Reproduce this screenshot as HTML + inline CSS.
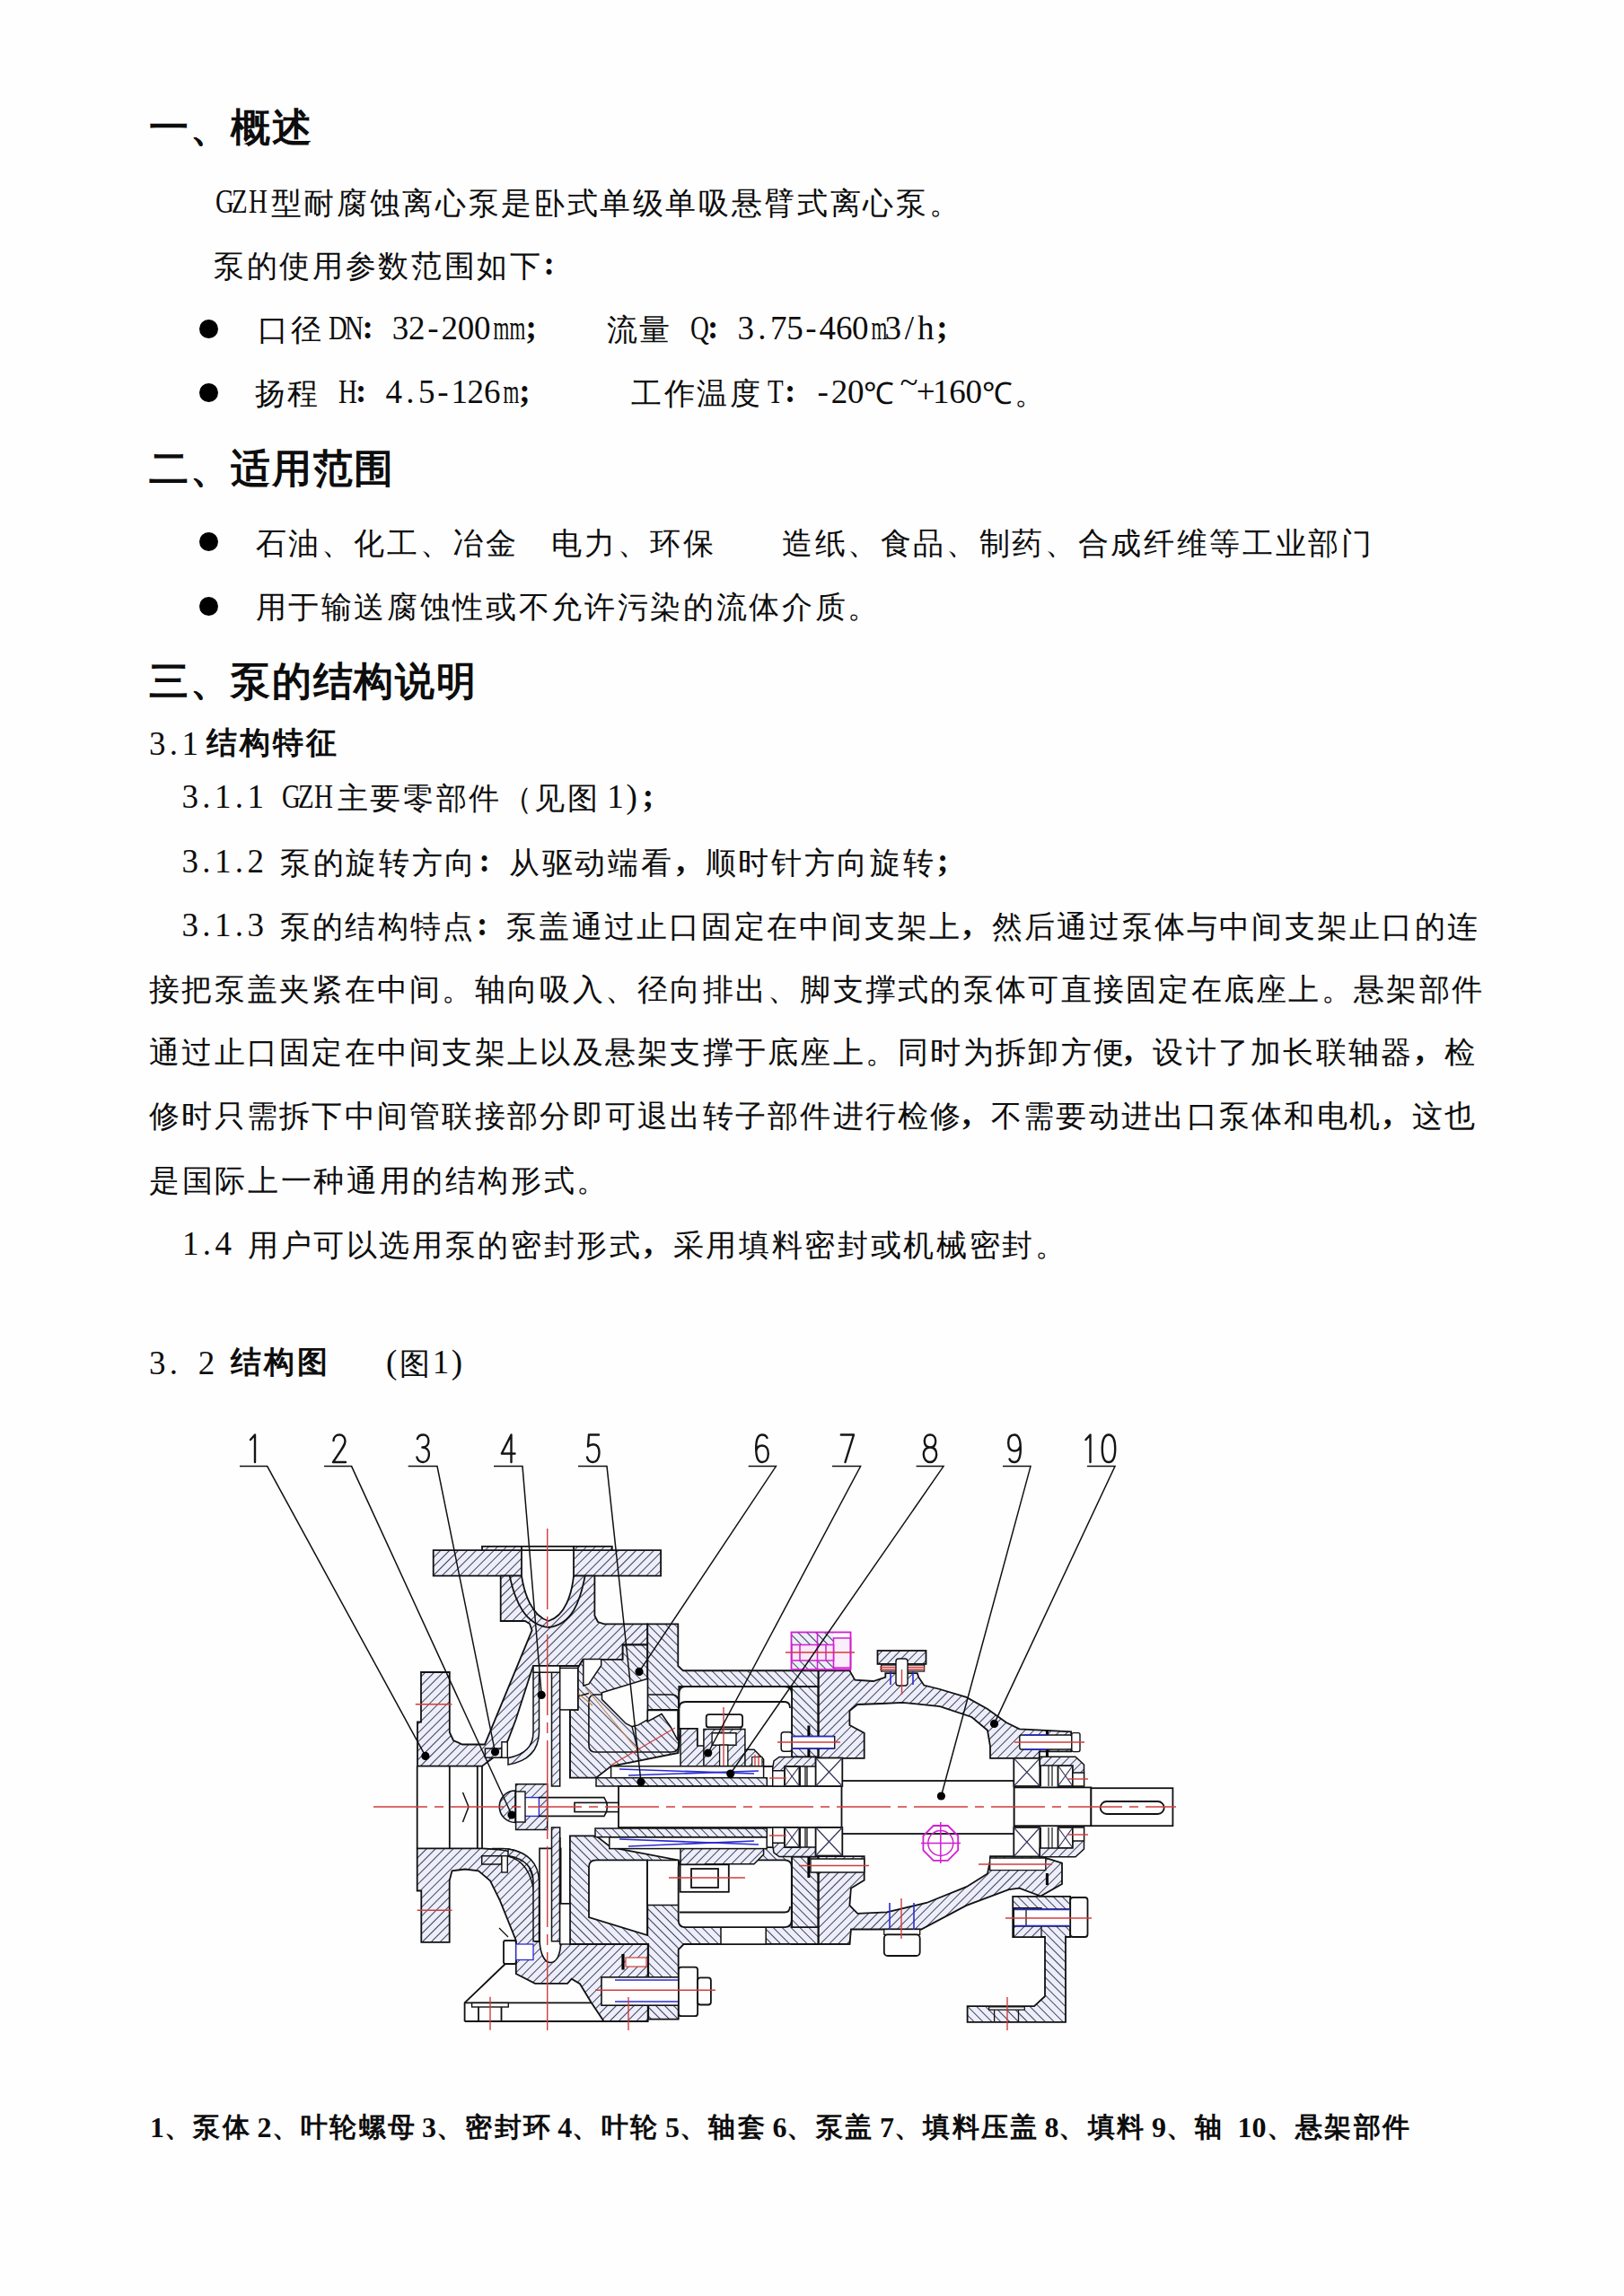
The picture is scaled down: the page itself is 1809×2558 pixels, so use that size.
<!DOCTYPE html>
<html><head><meta charset="utf-8"><title>GZH</title>
<style>
html,body{margin:0;padding:0;background:#fefefe;}
body{width:1809px;height:2558px;position:relative;overflow:hidden;}
span{position:absolute;white-space:pre;line-height:1;color:#0d0d0d;}
.cr{font-family:"Liberation Serif",serif;font-weight:normal;}
.cb{font-family:"Liberation Sans",sans-serif;font-weight:bold;}
.cs{font-family:"Liberation Sans",sans-serif;font-weight:bold;}
.lr{font-family:"Liberation Serif",serif;text-align:center;}
.lb{font-family:"Liberation Serif",serif;font-weight:bold;text-align:center;}
.bu{background:#000;border-radius:50%;}
svg{position:absolute;left:0;top:0;}
</style></head><body>
<span class="cs" style="left:166.0px;top:121.4px;font-size:43.6px;letter-spacing:1.70px">一、概述</span>
<span class="lr" style="left:238.0px;top:206.2px;width:18.23px;font-size:37px;transform:scaleX(0.78)">G</span>
<span class="lr" style="left:256.2px;top:206.2px;width:18.23px;font-size:37px;transform:scaleX(0.78)">Z</span>
<span class="lr" style="left:274.5px;top:206.2px;width:18.23px;font-size:37px;transform:scaleX(0.78)">H</span>
<span class="cr" style="left:301.7px;top:210.3px;font-size:33.8px;letter-spacing:2.65px">型耐腐蚀离心泵是卧式单级单吸悬臂式离心泵。</span>
<span class="cr" style="left:238.0px;top:280.3px;font-size:33.8px;letter-spacing:2.65px">泵的使用参数范围如下</span>
<span class="lr" style="left:605.5px;top:275.2px;width:12px;font-size:37px;font-weight:bold">:</span>
<span class="bu" style="left:221.5px;top:355.5px;width:21px;height:21px"></span>
<span class="cr" style="left:287.0px;top:351.3px;font-size:33.8px;letter-spacing:2.65px">口径</span>
<span class="lr" style="left:363.9px;top:347.2px;width:18.23px;font-size:37px;transform:scaleX(0.78)">D</span>
<span class="lr" style="left:382.1px;top:347.2px;width:18.23px;font-size:37px;transform:scaleX(0.78)">N</span>
<span class="lr" style="left:403.4px;top:346.2px;width:12px;font-size:37px;font-weight:bold">:</span>
<span class="lr" style="left:436.8px;top:347.2px;width:18.23px;font-size:37px">3</span>
<span class="lr" style="left:455.0px;top:347.2px;width:18.23px;font-size:37px">2</span>
<span class="lr" style="left:473.3px;top:347.2px;width:18.23px;font-size:37px">-</span>
<span class="lr" style="left:491.5px;top:347.2px;width:18.23px;font-size:37px">2</span>
<span class="lr" style="left:509.7px;top:347.2px;width:18.23px;font-size:37px">0</span>
<span class="lr" style="left:527.9px;top:347.2px;width:18.23px;font-size:37px">0</span>
<span class="lr" style="left:546.2px;top:347.2px;width:18.23px;font-size:37px;transform:scaleX(0.62)">m</span>
<span class="lr" style="left:564.4px;top:347.2px;width:18.23px;font-size:37px;transform:scaleX(0.62)">m</span>
<span class="lr" style="left:585.6px;top:346.2px;width:12px;font-size:37px;font-weight:bold">;</span>
<span class="cr" style="left:675.7px;top:351.3px;font-size:33.8px;letter-spacing:2.65px">流量</span>
<span class="lr" style="left:766.8px;top:347.2px;width:18.23px;font-size:37px;transform:scaleX(0.78)">Q</span>
<span class="lr" style="left:788.1px;top:346.2px;width:12px;font-size:37px;font-weight:bold">:</span>
<span class="lr" style="left:821.5px;top:347.2px;width:18.23px;font-size:37px">3</span>
<span class="lr" style="left:839.7px;top:347.2px;width:18.23px;font-size:37px">.</span>
<span class="lr" style="left:858.0px;top:347.2px;width:18.23px;font-size:37px">7</span>
<span class="lr" style="left:876.2px;top:347.2px;width:18.23px;font-size:37px">5</span>
<span class="lr" style="left:894.4px;top:347.2px;width:18.23px;font-size:37px">-</span>
<span class="lr" style="left:912.6px;top:347.2px;width:18.23px;font-size:37px">4</span>
<span class="lr" style="left:930.9px;top:347.2px;width:18.23px;font-size:37px">6</span>
<span class="lr" style="left:949.1px;top:347.2px;width:18.23px;font-size:37px">0</span>
<span class="lr" style="left:967.3px;top:347.2px;width:18.23px;font-size:37px;transform:scaleX(0.62)">m</span>
<span class="lr" style="left:985.5px;top:347.2px;width:18.23px;font-size:37px">3</span>
<span class="lr" style="left:1003.8px;top:347.2px;width:18.23px;font-size:37px">/</span>
<span class="lr" style="left:1022.0px;top:347.2px;width:18.23px;font-size:37px">h</span>
<span class="lr" style="left:1043.2px;top:346.2px;width:12px;font-size:37px;font-weight:bold">;</span>
<span class="bu" style="left:221.5px;top:427.0px;width:21px;height:21px"></span>
<span class="cr" style="left:283.7px;top:422.3px;font-size:33.8px;letter-spacing:2.65px">扬程</span>
<span class="lr" style="left:374.8px;top:418.2px;width:18.23px;font-size:37px;transform:scaleX(0.78)">H</span>
<span class="lr" style="left:396.1px;top:417.2px;width:12px;font-size:37px;font-weight:bold">:</span>
<span class="lr" style="left:429.5px;top:418.2px;width:18.23px;font-size:37px">4</span>
<span class="lr" style="left:447.7px;top:418.2px;width:18.23px;font-size:37px">.</span>
<span class="lr" style="left:466.0px;top:418.2px;width:18.23px;font-size:37px">5</span>
<span class="lr" style="left:484.2px;top:418.2px;width:18.23px;font-size:37px">-</span>
<span class="lr" style="left:502.4px;top:418.2px;width:18.23px;font-size:37px">1</span>
<span class="lr" style="left:520.6px;top:418.2px;width:18.23px;font-size:37px">2</span>
<span class="lr" style="left:538.9px;top:418.2px;width:18.23px;font-size:37px">6</span>
<span class="lr" style="left:557.1px;top:418.2px;width:18.23px;font-size:37px;transform:scaleX(0.62)">m</span>
<span class="lr" style="left:578.3px;top:417.2px;width:12px;font-size:37px;font-weight:bold">;</span>
<span class="cr" style="left:703.0px;top:422.3px;font-size:33.8px;letter-spacing:2.65px">工作温度</span>
<span class="lr" style="left:852.8px;top:418.2px;width:18.23px;font-size:37px;transform:scaleX(0.78)">T</span>
<span class="lr" style="left:874.0px;top:417.2px;width:12px;font-size:37px;font-weight:bold">:</span>
<span class="lr" style="left:907.5px;top:418.2px;width:18.23px;font-size:37px">-</span>
<span class="lr" style="left:925.7px;top:418.2px;width:18.23px;font-size:37px">2</span>
<span class="lr" style="left:943.9px;top:418.2px;width:18.23px;font-size:37px">0</span>
<span class="cr" style="left:962.2px;top:422.3px;font-size:33.8px;letter-spacing:0.00px">℃</span>
<span class="lr" style="left:1002.6px;top:407.2px;width:18.23px;font-size:37px">~</span>
<span class="lr" style="left:1020.8px;top:418.2px;width:18.23px;font-size:37px">+</span>
<span class="lr" style="left:1039.1px;top:418.2px;width:18.23px;font-size:37px">1</span>
<span class="lr" style="left:1057.3px;top:418.2px;width:18.23px;font-size:37px">6</span>
<span class="lr" style="left:1075.5px;top:418.2px;width:18.23px;font-size:37px">0</span>
<span class="cr" style="left:1093.7px;top:422.3px;font-size:33.8px;letter-spacing:2.65px">℃。</span>
<span class="cs" style="left:166.0px;top:501.4px;font-size:43.6px;letter-spacing:1.70px">二、适用范围</span>
<span class="bu" style="left:221.5px;top:592.5px;width:21px;height:21px"></span>
<span class="cr" style="left:284.5px;top:589.3px;font-size:33.8px;letter-spacing:2.65px">石油、化工、冶金　电力、环保　　造纸、食品、制药、合成纤维等工业部门</span>
<span class="bu" style="left:221.5px;top:665.0px;width:21px;height:21px"></span>
<span class="cr" style="left:284.5px;top:660.3px;font-size:33.8px;letter-spacing:2.65px">用于输送腐蚀性或不允许污染的流体介质。</span>
<span class="cs" style="left:166.0px;top:738.4px;font-size:43.6px;letter-spacing:1.70px">三、泵的结构说明</span>
<span class="lr" style="left:166.0px;top:809.9px;width:18.23px;font-size:37px">3</span>
<span class="lr" style="left:184.2px;top:809.9px;width:18.23px;font-size:37px">.</span>
<span class="lr" style="left:202.4px;top:809.9px;width:18.23px;font-size:37px">1</span>
<span class="cb" style="left:229.7px;top:811.0px;font-size:33.5px;letter-spacing:2.95px">结构特征</span>
<span class="lr" style="left:202.6px;top:869.2px;width:18.23px;font-size:37px">3</span>
<span class="lr" style="left:220.8px;top:869.2px;width:18.23px;font-size:37px">.</span>
<span class="lr" style="left:239.0px;top:869.2px;width:18.23px;font-size:37px">1</span>
<span class="lr" style="left:257.3px;top:869.2px;width:18.23px;font-size:37px">.</span>
<span class="lr" style="left:275.5px;top:869.2px;width:18.23px;font-size:37px">1</span>
<span class="lr" style="left:312.0px;top:869.2px;width:18.23px;font-size:37px;transform:scaleX(0.78)">G</span>
<span class="lr" style="left:330.2px;top:869.2px;width:18.23px;font-size:37px;transform:scaleX(0.78)">Z</span>
<span class="lr" style="left:348.4px;top:869.2px;width:18.23px;font-size:37px;transform:scaleX(0.78)">H</span>
<span class="cr" style="left:375.6px;top:873.3px;font-size:33.8px;letter-spacing:2.65px">主要零部件（见图</span>
<span class="lr" style="left:676.2px;top:869.2px;width:18.23px;font-size:37px">1</span>
<span class="lr" style="left:694.5px;top:869.2px;width:18.23px;font-size:37px">)</span>
<span class="lr" style="left:715.7px;top:868.2px;width:12px;font-size:37px;font-weight:bold">;</span>
<span class="lr" style="left:202.6px;top:941.2px;width:18.23px;font-size:37px">3</span>
<span class="lr" style="left:220.8px;top:941.2px;width:18.23px;font-size:37px">.</span>
<span class="lr" style="left:239.0px;top:941.2px;width:18.23px;font-size:37px">1</span>
<span class="lr" style="left:257.3px;top:941.2px;width:18.23px;font-size:37px">.</span>
<span class="lr" style="left:275.5px;top:941.2px;width:18.23px;font-size:37px">2</span>
<span class="cr" style="left:312.0px;top:945.3px;font-size:33.8px;letter-spacing:2.65px">泵的旋转方向</span>
<span class="lr" style="left:533.6px;top:940.2px;width:12px;font-size:37px;font-weight:bold">:</span>
<span class="cr" style="left:567.1px;top:945.3px;font-size:33.8px;letter-spacing:2.65px">从驱动端看</span>
<span class="lr" style="left:752.4px;top:940.2px;width:12px;font-size:37px;font-weight:bold">,</span>
<span class="cr" style="left:785.8px;top:945.3px;font-size:33.8px;letter-spacing:2.65px">顺时针方向旋转</span>
<span class="lr" style="left:1044.0px;top:940.2px;width:12px;font-size:37px;font-weight:bold">;</span>
<span class="lr" style="left:202.6px;top:1012.2px;width:18.23px;font-size:37px">3</span>
<span class="lr" style="left:220.8px;top:1012.2px;width:18.23px;font-size:37px">.</span>
<span class="lr" style="left:239.0px;top:1012.2px;width:18.23px;font-size:37px">1</span>
<span class="lr" style="left:257.3px;top:1012.2px;width:18.23px;font-size:37px">.</span>
<span class="lr" style="left:275.5px;top:1012.2px;width:18.23px;font-size:37px">3</span>
<span class="cr" style="left:312.0px;top:1016.3px;font-size:33.8px;letter-spacing:2.23px">泵的结构特点</span>
<span class="lr" style="left:531.1px;top:1011.2px;width:12px;font-size:37px;font-weight:bold">:</span>
<span class="cr" style="left:564.1px;top:1016.3px;font-size:33.8px;letter-spacing:2.23px">泵盖通过止口固定在中间支架上</span>
<span class="lr" style="left:1071.5px;top:1011.2px;width:12px;font-size:37px;font-weight:bold">,</span>
<span class="cr" style="left:1104.6px;top:1016.3px;font-size:33.8px;letter-spacing:2.23px">然后通过泵体与中间支架止口的连</span>
<span class="cr" style="left:166.0px;top:1086.3px;font-size:33.8px;letter-spacing:2.27px">接把泵盖夹紧在中间。轴向吸入、径向排出、脚支撑式的泵体可直接固定在底座上。悬架部件</span>
<span class="cr" style="left:166.0px;top:1156.3px;font-size:33.8px;letter-spacing:2.27px">通过止口固定在中间支架上以及悬架支撑于底座上。同时为拆卸方便</span>
<span class="lr" style="left:1251.2px;top:1151.2px;width:12px;font-size:37px;font-weight:bold">,</span>
<span class="cr" style="left:1284.3px;top:1156.3px;font-size:33.8px;letter-spacing:2.27px">设计了加长联轴器</span>
<span class="lr" style="left:1575.9px;top:1151.2px;width:12px;font-size:37px;font-weight:bold">,</span>
<span class="cr" style="left:1608.9px;top:1156.3px;font-size:33.8px;letter-spacing:0.00px">检</span>
<span class="cr" style="left:166.0px;top:1227.3px;font-size:33.8px;letter-spacing:2.27px">修时只需拆下中间管联接部分即可退出转子部件进行检修</span>
<span class="lr" style="left:1070.8px;top:1222.2px;width:12px;font-size:37px;font-weight:bold">,</span>
<span class="cr" style="left:1103.9px;top:1227.3px;font-size:33.8px;letter-spacing:2.27px">不需要动进出口泵体和电机</span>
<span class="lr" style="left:1539.8px;top:1222.2px;width:12px;font-size:37px;font-weight:bold">,</span>
<span class="cr" style="left:1572.9px;top:1227.3px;font-size:33.8px;letter-spacing:2.27px">这也</span>
<span class="cr" style="left:166.0px;top:1299.3px;font-size:33.8px;letter-spacing:2.65px">是国际上一种通用的结构形式。</span>
<span class="lr" style="left:203.0px;top:1367.2px;width:18.23px;font-size:37px">1</span>
<span class="lr" style="left:221.2px;top:1367.2px;width:18.23px;font-size:37px">.</span>
<span class="lr" style="left:239.4px;top:1367.2px;width:18.23px;font-size:37px">4</span>
<span class="cr" style="left:275.9px;top:1371.3px;font-size:33.8px;letter-spacing:2.65px">用户可以选用泵的密封形式</span>
<span class="lr" style="left:716.3px;top:1366.2px;width:12px;font-size:37px;font-weight:bold">,</span>
<span class="cr" style="left:749.8px;top:1371.3px;font-size:33.8px;letter-spacing:2.65px">采用填料密封或机械密封。</span>
<span class="lr" style="left:166.0px;top:1499.9px;width:18.23px;font-size:37px">3</span>
<span class="lr" style="left:184.2px;top:1499.9px;width:18.23px;font-size:37px">.</span>
<span class="lr" style="left:220.7px;top:1499.9px;width:18.23px;font-size:37px">2</span>
<span class="cb" style="left:257.1px;top:1501.0px;font-size:33.5px;letter-spacing:2.95px">结构图</span>
<span class="lr" style="left:427.0px;top:1499.2px;width:18.23px;font-size:37px">(</span>
<span class="cr" style="left:445.2px;top:1503.3px;font-size:33.8px;letter-spacing:0.00px">图</span>
<span class="lr" style="left:481.7px;top:1499.2px;width:18.23px;font-size:37px">1</span>
<span class="lr" style="left:499.9px;top:1499.2px;width:18.23px;font-size:37px">)</span>
<span class="lb" style="left:167.0px;top:2354.4px;width:15.95px;font-size:32px">1</span>
<span class="cb" style="left:182.9px;top:2355.2px;font-size:29.5px;letter-spacing:2.40px">、泵体</span>
<span class="lb" style="left:286.5px;top:2354.4px;width:15.95px;font-size:32px">2</span>
<span class="cb" style="left:302.5px;top:2355.2px;font-size:29.5px;letter-spacing:2.40px">、叶轮螺母</span>
<span class="lb" style="left:469.9px;top:2354.4px;width:15.95px;font-size:32px">3</span>
<span class="cb" style="left:485.8px;top:2355.2px;font-size:29.5px;letter-spacing:2.40px">、密封环</span>
<span class="lb" style="left:621.3px;top:2354.4px;width:15.95px;font-size:32px">4</span>
<span class="cb" style="left:637.3px;top:2355.2px;font-size:29.5px;letter-spacing:2.40px">、叶轮</span>
<span class="lb" style="left:740.9px;top:2354.4px;width:15.95px;font-size:32px">5</span>
<span class="cb" style="left:756.8px;top:2355.2px;font-size:29.5px;letter-spacing:2.40px">、轴套</span>
<span class="lb" style="left:860.4px;top:2354.4px;width:15.95px;font-size:32px">6</span>
<span class="cb" style="left:876.4px;top:2355.2px;font-size:29.5px;letter-spacing:2.40px">、泵盖</span>
<span class="lb" style="left:980.0px;top:2354.4px;width:15.95px;font-size:32px">7</span>
<span class="cb" style="left:995.9px;top:2355.2px;font-size:29.5px;letter-spacing:2.40px">、填料压盖</span>
<span class="lb" style="left:1163.4px;top:2354.4px;width:15.95px;font-size:32px">8</span>
<span class="cb" style="left:1179.3px;top:2355.2px;font-size:29.5px;letter-spacing:2.40px">、填料</span>
<span class="lb" style="left:1282.9px;top:2354.4px;width:15.95px;font-size:32px">9</span>
<span class="cb" style="left:1298.9px;top:2355.2px;font-size:29.5px;letter-spacing:2.40px">、轴</span>
<span class="lb" style="left:1378.6px;top:2354.4px;width:15.95px;font-size:32px">1</span>
<span class="lb" style="left:1394.6px;top:2354.4px;width:15.95px;font-size:32px">0</span>
<span class="cb" style="left:1410.5px;top:2355.2px;font-size:29.5px;letter-spacing:2.40px">、悬架部件</span>
<svg width="1809" height="2558" viewBox="0 0 1809 2558">
<defs>
<pattern id="hA" width="7" height="7" patternUnits="userSpaceOnUse" patternTransform="rotate(45)"><rect width="7" height="7" fill="#eceef9"/><line x1="0" y1="0" x2="0" y2="7" stroke="#2c2c48" stroke-width="1.8"/></pattern>
<pattern id="hB" width="7" height="7" patternUnits="userSpaceOnUse" patternTransform="rotate(-45)"><rect width="7" height="7" fill="#eceef9"/><line x1="0" y1="0" x2="0" y2="7" stroke="#2c2c48" stroke-width="1.8"/></pattern>
</defs>
<polygon points="482.7,1727.2 537,1727.2 537,1722.8 681.8,1722.8 681.8,1727.2 736.1,1727.2 736.1,1755.6 482.7,1755.6" fill="url(#hA)" stroke="#111" stroke-width="1.8"/>
<polygon points="557.7,1755.6 662.4,1755.6 662.4,1800 666,1807 673,1809.4 721.3,1809.4 721.3,1832.5 693.7,1832.5 693.7,1848.8 649.4,1848.8 645,1856 594,1856 591.6,1863 574.8,1915.3 566,1938.5 558,1952 537,1967.6 465,1967.6 465,1918.5 469,1918.5 469,1863 500.8,1863 500.8,1930 505,1939 515,1943.5 540,1943.5 592.6,1816.4 590,1809 584.8,1806 557.7,1806" fill="url(#hA)" stroke="#111" stroke-width="1.8"/>
<path d="M581,1722.8 L639,1722.8 L639,1755.6 C637,1775 630,1800 611,1806 C592,1800 584,1775 581,1755.6 Z" fill="#fefefe" stroke="#111" stroke-width="1.8"/>
<path d="M567.7,1755.6 C574,1785 585,1810 611,1813 C637,1810 646,1785 651.7,1755.6" fill="none" stroke="#111" stroke-width="1.8"/>
<polyline points="537,1727.2 681.8,1727.2" fill="none" stroke="#111" stroke-width="1.8"/>
<rect x="540.4" y="1948" width="18.5" height="10.2" rx="0" fill="url(#hA)" stroke="#111" stroke-width="1.5"/>
<polygon points="558.9,1940.7 565.3,1940.7 565.3,1958.2 558.9,1958.2" fill="#fefefe" stroke="#111" stroke-width="1.4"/>
<polygon points="464.7,2059.4 536.7,2059.4 562,2061 578,2067 589,2078 595,2096 596,2162 624.7,2162 624.7,2121 721.7,2121 721.7,2252 672.7,2252 658.9,2231.4 646,2210.2 636.7,2204.7 632.1,2209.8 596,2209.8 574.8,2199 574.8,2162 557,2117.6 546,2095.4 533,2084.3 518.2,2082.5 503.5,2084.3 500.7,2095.4 500.7,2163.8 469.3,2163.8 469.3,2106.5 464.7,2106.5" fill="url(#hA)" stroke="#111" stroke-width="1.8"/>
<path d="M601,2059.4 L601,2162 C602,2180 608,2186.5 613,2186.5 C620,2186.5 624.7,2178 624.7,2162 L624.7,2059.4 Z" fill="#fefefe" stroke="#111" stroke-width="1.6"/>
<path d="M548,2059.4 C572,2061 586,2070 592,2085 C597,2100 596,2140 596,2163 L601,2163 C601,2140 602,2098 597,2082 C590,2066 575,2060 560,2059.4 Z" fill="url(#hA)" stroke="#111" stroke-width="1.4"/>
<path d="M566,2068 C582,2072 592,2085 595,2110" fill="none" stroke="#111" stroke-width="1.4"/>
<rect x="536.7" y="2067.7" width="22.2" height="9.3" rx="0" fill="url(#hA)" stroke="#111" stroke-width="1.5"/>
<rect x="558.9" y="2067.7" width="6.4" height="18.3" rx="0" fill="#fefefe" stroke="#111" stroke-width="1.4"/>
<polyline points="500.8,1967.6 500.8,2059.4" fill="none" stroke="#111" stroke-width="1.8"/>
<polyline points="531.8,1967.6 531.8,2059.4" fill="none" stroke="#111" stroke-width="1.8"/>
<polyline points="537,1967.6 537,2059.4" fill="none" stroke="#111" stroke-width="1.8"/>
<polyline points="464.7,1967.6 464.7,2059.4" fill="none" stroke="#111" stroke-width="1.8"/>
<polyline points="515.5,1997 522,2013 515.5,2030" fill="none" stroke="#111" stroke-width="1.5"/>
<polyline points="517.6,2252 517.6,2231.4 562.8,2188" fill="none" stroke="#111" stroke-width="1.8"/>
<polyline points="517.6,2231.4 658.9,2231.4" fill="none" stroke="#111" stroke-width="1.8"/>
<polyline points="517.6,2252 700.4,2252" fill="none" stroke="#111" stroke-width="1.8"/>
<rect x="525.6" y="2231.5" width="40.7" height="4.5" rx="0" fill="#fefefe" stroke="#111" stroke-width="1.4"/>
<polyline points="533,2236 533,2252" fill="none" stroke="#111" stroke-width="1.8"/>
<polyline points="558.5,2236 558.5,2252" fill="none" stroke="#111" stroke-width="1.8"/>
<rect x="561" y="2162" width="13.8" height="26" rx="2" fill="#fefefe" stroke="#111" stroke-width="1.8"/>
<rect x="574.8" y="2166" width="19.2" height="17.5" rx="0" fill="#fefefe" stroke="#2a2ad0" stroke-width="1.3"/>
<polyline points="566,2158 556,2148" fill="none" stroke="#111" stroke-width="1.2"/>
<polygon points="614.5,1863.2 623.7,1863.2 623.7,1990 614.5,1990" fill="url(#hA)" stroke="#111" stroke-width="1.5"/>
<path d="M594,1863.2 L600.5,1863.2 L600.5,1930 C600,1948 590,1962 566,1966 L566,1958.5 C585,1955 594,1945 594,1930 Z" fill="url(#hA)" stroke="#111" stroke-width="1.5"/>
<rect x="594" y="1856" width="29.7" height="7.2" rx="0" fill="#fefefe" stroke="#111" stroke-width="1.5"/>
<polygon points="614.5,2162.8 623.7,2162.8 623.7,2036 614.5,2036" fill="url(#hA)" stroke="#111" stroke-width="1.5"/>
<path d="M594,2162.8 L600.5,2162.8 L600.5,2096 C600,2078 590,2064 566,2060 L566,2067.5 C585,2071 594,2081 594,2096 Z" fill="url(#hA)" stroke="#111" stroke-width="1.5"/>
<polygon points="574.6,1987.8 609.7,1987.8 609.7,2038.6 574.6,2038.6" fill="url(#hA)" stroke="#111" stroke-width="1.5"/>
<path d="M574,1995 A17.5,17.5 0 0 0 574,2030.5 Z" fill="url(#hA)" stroke="#111" stroke-width="1.6"/>
<rect x="574.6" y="2002.6" width="25.8" height="20.8" rx="0" fill="#fefefe" stroke="#2a2ad0" stroke-width="1.4"/>
<rect x="574.6" y="1996" width="10.4" height="34" rx="0" fill="#fefefe" stroke="#111" stroke-width="1.4"/>
<polygon points="634.9,1904.9 643.7,1904.9 643.7,1858.4 649.4,1848.8 693.7,1848.8 693.7,1832.5 721.3,1832.5 721.3,1905 755.3,1905 756.3,1861.3 946.4,1861.3 946.4,1879 882,1879 882,1967.8 776.7,1967.8 776.7,1926 758,1926 755.5,1953 680.6,1967.8 664,1980.7 634.9,1980.7" fill="url(#hB)" stroke="#111" stroke-width="1.8"/>
<polygon points="721.3,1809.4 755.3,1809.4 755.3,1856 761,1861.3 946.4,1861.3 946.4,1879 756.3,1879 756.3,1905 721.3,1905" fill="url(#hB)" stroke="#111" stroke-width="1.8"/>
<polygon points="882,1879 911.6,1879 911.6,1957.5 882,1957.5" fill="url(#hB)" stroke="#111" stroke-width="1.8"/>
<polygon points="881.8,2068.5 911.6,2068.5 911.6,2166 881.8,2166" fill="url(#hB)" stroke="#111" stroke-width="1.8"/>
<path d="M663,1888 L748,1888 Q755.9,1888 755.9,1896 L755.9,1944 Q755.9,1952 748,1952 L663,1952 Q655.9,1952 655.9,1944 L655.9,1896 Q655.9,1888 663,1888 Z" fill="none" stroke="#111" stroke-width="1.6"/>
<polygon points="670.5,1885.7 721.4,1870.2 721.4,1915.9 711,1921.9 704.1,1923.6 697.2,1920.2 670.5,1893.4" fill="#fefefe" stroke="#111" stroke-width="1.5"/>
<polygon points="721.4,1905.5 755,1905.5 755,1939 747,1924 737,1909.5 721.4,1918" fill="#fefefe" stroke="#111" stroke-width="1.5"/>
<polygon points="649.8,1848.6 669.7,1848.6 669.7,1855.5 655.9,1876.2 649.8,1878" fill="#fefefe" stroke="#111" stroke-width="1.5"/>
<polyline points="636,1892 655.9,1886.5" fill="none" stroke="#111" stroke-width="1.4"/>
<polyline points="704,1923.6 711,1952" fill="none" stroke="#111" stroke-width="1.4"/>
<polyline points="636,1880 660,1900" fill="none" stroke="#c08040" stroke-width="1.1"/>
<polyline points="652,1880 712,1952" fill="none" stroke="#c08040" stroke-width="1.1"/>
<polyline points="680,1967 752,1925" fill="none" stroke="#d23c3c" stroke-width="1.1"/>
<path d="M763,1879 L874,1879 Q882,1879 882,1887 L882,1967.8 L776.7,1967.8 L776.7,1926 L756.4,1926 L756.4,1887 Q756.4,1879 763,1879 Z" fill="#fefefe" stroke="#111" stroke-width="1.8"/>
<path d="M756.5,1903 Q756.5,1896 764,1896 L874,1896 Q880,1896 880,1903" fill="none" stroke="#111" stroke-width="1.8"/>
<polygon points="758,1926 776.7,1926 776.7,1945 786,1945 786,1949.3 840,1949.3 850.6,1960 850.6,1967.8 758,1967.8" fill="url(#hA)" stroke="#111" stroke-width="1.5"/>
<rect x="783.9" y="1926.5" width="46" height="41.1" rx="0" fill="url(#hA)" stroke="#111" stroke-width="1.5"/>
<polygon points="793.1,1930.7 820,1930.7 820,1944.2 793.1,1944.2" fill="#fefefe" stroke="#111" stroke-width="1.4"/>
<polygon points="801.6,1944.2 810.8,1944.2 810.8,1967.6 801.6,1967.6" fill="#fefefe" stroke="#111" stroke-width="1.3"/>
<rect x="786.7" y="1910.2" width="40.4" height="14.2" rx="3" fill="#fefefe" stroke="#111" stroke-width="1.8"/>
<polyline points="789,1924.4 825,1924.4 825,1926.5" fill="none" stroke="#111" stroke-width="1.3"/>
<polyline points="806,1902 806,1972" fill="none" stroke="#d23c3c" stroke-width="1.4"/>
<polygon points="837.7,1957.5 849,1957.5 849,1976 837.7,1976" fill="#fefefe" stroke="#111" stroke-width="1.2"/>
<polyline points="841,1955 841,1976" fill="none" stroke="#d23c3c" stroke-width="1.4"/>
<polyline points="845,1955 845,1976" fill="none" stroke="#d23c3c" stroke-width="1.4"/>
<rect x="680.6" y="1967.8" width="170" height="12.9" rx="0" fill="#fefefe" stroke="#111" stroke-width="1.5"/>
<polyline points="690,1971 840,1976" fill="none" stroke="#2a2ad0" stroke-width="1.6"/>
<polyline points="700,1978 845,1973" fill="none" stroke="#2a2ad0" stroke-width="1.6"/>
<rect x="664" y="1980.7" width="190.3" height="9.3" rx="0" fill="url(#hB)" stroke="#111" stroke-width="1.5"/>
<polygon points="634.9,2045.3 664,2045.3 680.6,2058.2 755.7,2072.4 758,2100 776.7,2100 776.7,2058.2 882,2058.2 882,2147.2 946.4,2147.2 946.4,2165.8 761.6,2166 755.7,2172 755.7,2249.7 722.2,2249.7 722.2,2166 700,2166 634.9,2166" fill="url(#hB)" stroke="#111" stroke-width="1.8"/>
<path d="M664,2072.4 L721.2,2072.4 L721.2,2156 L656,2136 L656,2080 Q656,2072.4 664,2072.4 Z" fill="#fefefe" stroke="#111" stroke-width="1.8"/>
<polyline points="721.2,2072.4 721.2,2156" fill="none" stroke="#111" stroke-width="1.8"/>
<polygon points="721.2,2072.4 755.7,2072.4 755.7,2122.6 721.2,2122.6" fill="#fefefe" stroke="#111" stroke-width="1.5"/>
<polygon points="803,2147.2 853.2,2147.2 853.2,2166 803,2166" fill="#fefefe" stroke="#111" stroke-width="1.5"/>
<polyline points="694,2177 694,2194.5" fill="none" stroke="#000" stroke-width="3.2"/>
<rect x="697" y="2181" width="23" height="10" rx="0" fill="#fefefe" stroke="#d23c3c" stroke-width="1.2"/>
<path d="M763,2072.4 L874,2072.4 Q881.8,2072.4 881.8,2080 L881.8,2139 Q881.8,2147.2 874,2147.2 L763,2147.2 Q755.7,2147.2 755.7,2139 L755.7,2080 Q755.7,2072.4 763,2072.4 Z" fill="#fefefe" stroke="#111" stroke-width="1.8"/>
<path d="M757,2130.5 L874,2130.5 Q880,2130.5 880,2124" fill="none" stroke="#111" stroke-width="1.8"/>
<polygon points="758,2100 776.7,2100 776.7,2081 786,2081 786,2076.7 840,2076.7 850.6,2066 850.6,2058.2 758,2058.2" fill="url(#hA)" stroke="#111" stroke-width="1.5"/>
<rect x="757.6" y="2077.3" width="54.2" height="30.5" rx="0" fill="#fefefe" stroke="#111" stroke-width="1.8"/>
<rect x="770" y="2082" width="30" height="21" rx="0" fill="#fefefe" stroke="#111" stroke-width="1.8"/>
<polyline points="745,2092 830,2092" fill="none" stroke="#d23c3c" stroke-width="1.4"/>
<rect x="678.8" y="2046.7" width="175.4" height="12.9" rx="0" fill="#fefefe" stroke="#111" stroke-width="1.5"/>
<polyline points="690,2049 845,2055" fill="none" stroke="#2a2ad0" stroke-width="1.6"/>
<polyline points="700,2057 840,2051" fill="none" stroke="#2a2ad0" stroke-width="1.6"/>
<rect x="663" y="2037" width="191.3" height="9.7" rx="0" fill="url(#hB)" stroke="#111" stroke-width="1.5"/>
<rect x="670" y="2202.8" width="85.9" height="31.4" rx="0" fill="#fefefe" stroke="#111" stroke-width="1.6"/>
<rect x="755.9" y="2191.7" width="21.2" height="54.5" rx="3" fill="#fefefe" stroke="#111" stroke-width="1.8"/>
<rect x="777.1" y="2203.4" width="14.8" height="30.1" rx="3" fill="#fefefe" stroke="#111" stroke-width="1.8"/>
<polyline points="685,2206 755,2206" fill="none" stroke="#2a2ad0" stroke-width="1.6"/>
<polyline points="685,2230 755,2230" fill="none" stroke="#2a2ad0" stroke-width="1.6"/>
<polyline points="663,2217.2 797,2217.2" fill="none" stroke="#d23c3c" stroke-width="1.4"/>
<polyline points="623.7,2047 623.7,2166" fill="none" stroke="#111" stroke-width="1.8"/>
<polyline points="634.9,1904.9 634.9,1980.7" fill="none" stroke="#111" stroke-width="1.8"/>
<rect x="623.7" y="1858.4" width="20" height="46.5" rx="0" fill="#fefefe" stroke="#111" stroke-width="1.5"/>
<rect x="623.7" y="2121" width="11.2" height="45" rx="0" fill="#fefefe" stroke="#111" stroke-width="1.4"/>
<rect x="689" y="1990" width="251" height="46" rx="0" fill="#fefefe" stroke="#111" stroke-width="1.8"/>
<rect x="640" y="2008.4" width="49" height="10.2" rx="0" fill="#fefefe" stroke="#111" stroke-width="1.6"/>
<path d="M600,2002.6 L673,2002.6 Q680,2013 673,2023.4 L600,2023.4" fill="none" stroke="#111" stroke-width="1.6"/>
<rect x="937.5" y="1984" width="192.2" height="59" rx="0" fill="#fefefe" stroke="#111" stroke-width="1.8"/>
<rect x="1129.7" y="1991.4" width="85.7" height="42.8" rx="0" fill="#fefefe" stroke="#111" stroke-width="1.8"/>
<rect x="1215.4" y="1992.2" width="91" height="42" rx="0" fill="#fefefe" stroke="#111" stroke-width="1.8"/>
<rect x="1225.7" y="2007" width="71" height="14" rx="7" fill="#fefefe" stroke="#111" stroke-width="1.8"/>
<polygon points="911.6,1861.3 946.4,1861.3 952.3,1871.6 973,1873 986.3,1868.7 986.3,1864.2 1021.8,1864.2 1023.3,1868.7 1029.2,1877.5 1047,1882 1076.5,1890.9 1100,1904 1120.8,1919 1135.6,1926.3 1165,1927.8 1193.2,1929.3 1193.2,1951.4 1157.8,1951.4 1157.8,1958.8 1103,1958.8 1103,1945.5 1100,1927.8 1082.4,1913 1047,1901.2 1005.5,1896.8 982,1898 955,1899 946.4,1906 946.4,1922 962.7,1930.8 962.7,1958.8 911.6,1958.8" fill="url(#hA)" stroke="#111" stroke-width="1.8"/>
<polygon points="911.6,2068.2 962.7,2068.2 962.7,2094.8 947.9,2103.7 946.4,2122.9 955.3,2131.8 987.8,2130.3 1032.1,2120 1076.5,2102.2 1100,2087.4 1103,2072.6 1103,2068.2 1159,2068.2 1183,2075.6 1183,2099 1159.2,2112.5 1135.6,2103.7 1123.8,2105.1 1076.5,2122.9 1026.2,2149.5 982,2149.5 948,2149.5 946.4,2165.8 911.6,2165.8" fill="url(#hA)" stroke="#111" stroke-width="1.8"/>
<polyline points="911.6,1861.3 911.6,1958.8" fill="none" stroke="#111" stroke-width="1.8"/>
<polyline points="911.6,2068.2 911.6,2165.8" fill="none" stroke="#111" stroke-width="1.8"/>
<polygon points="860.7,1970 862,1962 868,1957.5 908.6,1957.5 908.6,1968 874,1968 874,1972.8 860.7,1972.8" fill="url(#hA)" stroke="#111" stroke-width="1.5"/>
<polygon points="860.7,1972.8 874,1972.8 874,1990 860.7,1990" fill="#fefefe" stroke="#111" stroke-width="1.4"/>
<rect x="874" y="1968" width="16.4" height="22" rx="0" fill="#fefefe" stroke="#111" stroke-width="1.8"/>
<polyline points="874,1968 890.4,1990" fill="none" stroke="#33335a" stroke-width="1.2"/>
<polyline points="874,1990 890.4,1968" fill="none" stroke="#33335a" stroke-width="1.2"/>
<rect x="908.6" y="1958.5" width="29.7" height="31.5" rx="0" fill="#fefefe" stroke="#111" stroke-width="1.8"/>
<polyline points="908.6,1958.5 938.3,1990" fill="none" stroke="#33335a" stroke-width="1.2"/>
<polyline points="908.6,1990 938.3,1958.5" fill="none" stroke="#33335a" stroke-width="1.2"/>
<polyline points="891.3,1968 891.3,1990" fill="none" stroke="#111" stroke-width="1.3"/>
<polyline points="897,1968 897,1990" fill="none" stroke="#111" stroke-width="1.3"/>
<polyline points="899,1968 899,1990" fill="none" stroke="#111" stroke-width="1.3"/>
<polygon points="860.7,2056 862,2064 868,2068.5 908.6,2068.5 908.6,2058 874,2058 874,2053.2 860.7,2053.2" fill="url(#hA)" stroke="#111" stroke-width="1.5"/>
<polygon points="860.7,2053.2 874,2053.2 874,2036 860.7,2036" fill="#fefefe" stroke="#111" stroke-width="1.4"/>
<rect x="874" y="2036" width="16.4" height="22" rx="0" fill="#fefefe" stroke="#111" stroke-width="1.8"/>
<polyline points="874,2036 890.4,2058" fill="none" stroke="#33335a" stroke-width="1.2"/>
<polyline points="874,2058 890.4,2036" fill="none" stroke="#33335a" stroke-width="1.2"/>
<rect x="908.6" y="2036" width="29.7" height="31.5" rx="0" fill="#fefefe" stroke="#111" stroke-width="1.8"/>
<polyline points="908.6,2036 938.3,2067.5" fill="none" stroke="#33335a" stroke-width="1.2"/>
<polyline points="908.6,2067.5 938.3,2036" fill="none" stroke="#33335a" stroke-width="1.2"/>
<polyline points="891.3,2058 891.3,2036" fill="none" stroke="#111" stroke-width="1.3"/>
<polyline points="897,2058 897,2036" fill="none" stroke="#111" stroke-width="1.3"/>
<polyline points="899,2058 899,2036" fill="none" stroke="#111" stroke-width="1.3"/>
<polyline points="857,1981 876,1981" fill="none" stroke="#d23c3c" stroke-width="1.4"/>
<polyline points="857,2045 876,2045" fill="none" stroke="#d23c3c" stroke-width="1.4"/>
<polyline points="900.9,1922.5 900.9,1934" fill="none" stroke="#000" stroke-width="3"/>
<polyline points="900.9,1948 900.9,1957" fill="none" stroke="#000" stroke-width="3"/>
<polyline points="900.9,2069 900.9,2092" fill="none" stroke="#000" stroke-width="3"/>
<rect x="1129.3" y="1958.8" width="29" height="31.2" rx="0" fill="#fefefe" stroke="#111" stroke-width="1.8"/>
<polyline points="1129.3,1958.8 1158.3,1990" fill="none" stroke="#33335a" stroke-width="1.2"/>
<polyline points="1129.3,1990 1158.3,1958.8" fill="none" stroke="#33335a" stroke-width="1.2"/>
<rect x="1178.5" y="1967" width="16.5" height="23" rx="0" fill="#fefefe" stroke="#111" stroke-width="1.8"/>
<polyline points="1178.5,1967 1195,1990" fill="none" stroke="#33335a" stroke-width="1.2"/>
<polyline points="1178.5,1990 1195,1967" fill="none" stroke="#33335a" stroke-width="1.2"/>
<rect x="1129.3" y="2036" width="29" height="32.4" rx="0" fill="#fefefe" stroke="#111" stroke-width="1.8"/>
<polyline points="1129.3,2036 1158.3,2068.4" fill="none" stroke="#33335a" stroke-width="1.2"/>
<polyline points="1129.3,2068.4 1158.3,2036" fill="none" stroke="#33335a" stroke-width="1.2"/>
<rect x="1178.5" y="2036" width="16.5" height="23" rx="0" fill="#fefefe" stroke="#111" stroke-width="1.8"/>
<polyline points="1178.5,2036 1195,2059" fill="none" stroke="#33335a" stroke-width="1.2"/>
<polyline points="1178.5,2059 1195,2036" fill="none" stroke="#33335a" stroke-width="1.2"/>
<polyline points="1159.3,1967 1159.3,1990" fill="none" stroke="#111" stroke-width="1.2"/>
<polyline points="1159.3,2036 1159.3,2059" fill="none" stroke="#111" stroke-width="1.2"/>
<polyline points="1168,1967 1168,1990" fill="none" stroke="#111" stroke-width="1.2"/>
<polyline points="1168,2036 1168,2059" fill="none" stroke="#111" stroke-width="1.2"/>
<polyline points="1172,1967 1172,1990" fill="none" stroke="#111" stroke-width="1.2"/>
<polyline points="1172,2036 1172,2059" fill="none" stroke="#111" stroke-width="1.2"/>
<polyline points="1166.4,1928 1166.4,1957" fill="none" stroke="#000" stroke-width="3"/>
<polyline points="1166.4,2087 1166.4,2100" fill="none" stroke="#000" stroke-width="3"/>
<polygon points="1158.3,1957.2 1198,1957.2 1207.5,1966 1207.5,1990 1195,1990 1195,1967 1158.3,1967" fill="url(#hA)" stroke="#111" stroke-width="1.5"/>
<polygon points="1195,1975 1207.5,1975 1207.5,1990 1195,1990" fill="#fefefe" stroke="#111" stroke-width="1.3"/>
<polygon points="1158.3,2068.8 1198,2068.8 1207.5,2060 1207.5,2036 1195,2036 1195,2059 1158.3,2059" fill="url(#hA)" stroke="#111" stroke-width="1.5"/>
<polygon points="1195,2051 1207.5,2051 1207.5,2036 1195,2036" fill="#fefefe" stroke="#111" stroke-width="1.3"/>
<polyline points="1190,1982 1212,1982" fill="none" stroke="#d23c3c" stroke-width="1.4"/>
<polyline points="1190,2044 1212,2044" fill="none" stroke="#d23c3c" stroke-width="1.4"/>
<rect x="1135.8" y="1933" width="58" height="16" rx="2" fill="#fefefe" stroke="#111" stroke-width="1.4"/>
<rect x="1193.8" y="1930.6" width="9.2" height="21" rx="2" fill="#fefefe" stroke="#111" stroke-width="1.4"/>
<polyline points="1140,1933 1166,1933" fill="none" stroke="#2a2ad0" stroke-width="1.6"/>
<polyline points="1140,1949 1166,1949" fill="none" stroke="#2a2ad0" stroke-width="1.6"/>
<polyline points="1130,1941 1208,1941" fill="none" stroke="#d23c3c" stroke-width="1.4"/>
<rect x="870.2" y="1929.7" width="12" height="21.6" rx="3" fill="#fefefe" stroke="#111" stroke-width="1.5"/>
<rect x="882.2" y="1934.5" width="47.5" height="13.5" rx="0" fill="#fefefe" stroke="#111" stroke-width="1.4"/>
<polyline points="882,1934.5 929,1934.5" fill="none" stroke="#2a2ad0" stroke-width="1.6"/>
<polyline points="882,1948 929,1948" fill="none" stroke="#2a2ad0" stroke-width="1.6"/>
<polyline points="866,1941 936,1941" fill="none" stroke="#d23c3c" stroke-width="1.4"/>
<rect x="977.5" y="1839" width="54" height="14.9" rx="0" fill="url(#hA)" stroke="#111" stroke-width="1.8"/>
<rect x="981.6" y="1855" width="48" height="7" rx="0" fill="#fefefe" stroke="#111" stroke-width="1.3"/>
<polyline points="980,1857.5 1030,1857.5" fill="none" stroke="#d23c3c" stroke-width="1.4"/>
<polyline points="980,1860 1030,1860" fill="none" stroke="#d23c3c" stroke-width="1.4"/>
<rect x="998" y="1848" width="13" height="30" rx="3" fill="#fefefe" stroke="#111" stroke-width="1.4"/>
<polyline points="1004.5,1860 1004.5,1888" fill="none" stroke="#d23c3c" stroke-width="1.4"/>
<polyline points="992,1862 992,1877" fill="none" stroke="#2a2ad0" stroke-width="1.6"/>
<polyline points="1017,1862 1017,1877" fill="none" stroke="#2a2ad0" stroke-width="1.6"/>
<polygon points="903,2071 962.7,2071 962.7,2086 903,2086" fill="#fefefe" stroke="#111" stroke-width="1.3"/>
<polyline points="890,2078.5 968,2078.5" fill="none" stroke="#d23c3c" stroke-width="1.4"/>
<polygon points="1102.7,2070 1164.8,2070 1164.8,2083.7 1102.7,2083.7" fill="#fefefe" stroke="#111" stroke-width="1.3"/>
<polyline points="1090,2077 1172,2077" fill="none" stroke="#d23c3c" stroke-width="1.4"/>
<rect x="984.8" y="2149.5" width="39.9" height="5.9" rx="0" fill="#fefefe" stroke="#111" stroke-width="1.3"/>
<rect x="984.8" y="2155.4" width="39.9" height="23.6" rx="4" fill="#fefefe" stroke="#111" stroke-width="1.8"/>
<polyline points="991,2120 991,2150" fill="none" stroke="#2a2ad0" stroke-width="1.6"/>
<polyline points="1018,2120 1018,2150" fill="none" stroke="#2a2ad0" stroke-width="1.6"/>
<polyline points="1004,2115 1004,2160" fill="none" stroke="#d23c3c" stroke-width="1.4"/>
<polygon points="1128.2,2112.8 1192.2,2112.8 1192.2,2158 1187,2158 1187,2252.8 1077.6,2252.8 1077.6,2235.2 1152,2235.2 1164,2224 1164,2158 1128.2,2158" fill="url(#hB)" stroke="#111" stroke-width="1.8"/>
<polygon points="1129.3,2125.7 1160,2125.7 1160,2158 1129.3,2158" fill="url(#hA)" stroke="#111" stroke-width="1.3"/>
<rect x="1192.2" y="2114" width="19.3" height="44" rx="3" fill="#fefefe" stroke="#111" stroke-width="1.8"/>
<polygon points="1129.3,2127 1192,2127 1192,2146 1129.3,2146" fill="#fefefe" stroke="#111" stroke-width="1.4"/>
<polyline points="1143,2127 1143,2146" fill="none" stroke="#111" stroke-width="1.3"/>
<polyline points="1130,2127.5 1192,2127.5" fill="none" stroke="#2a2ad0" stroke-width="1.6"/>
<polyline points="1130,2145.5 1192,2145.5" fill="none" stroke="#2a2ad0" stroke-width="1.6"/>
<polyline points="1120,2137 1216,2137" fill="none" stroke="#d23c3c" stroke-width="1.4"/>
<polygon points="1101.6,2236 1141.3,2236 1141.3,2239.2 1101.6,2239.2" fill="#fefefe" stroke="#111" stroke-width="1.2"/>
<polyline points="1107.6,2239.2 1107.6,2252.8" fill="none" stroke="#111" stroke-width="1.3"/>
<polyline points="1134.5,2239.2 1134.5,2252.8" fill="none" stroke="#111" stroke-width="1.3"/>
<polyline points="1122,2225 1122,2262" fill="none" stroke="#d23c3c" stroke-width="1.4"/>
<polygon points="881.5,1818.5 928.5,1818.5 928.5,1825 936,1825 936,1860 881.5,1860" fill="url(#hB)" stroke="#111" stroke-width="0"/>
<polygon points="928.5,1825 947.5,1825 947.5,1858 928.5,1858" fill="#fbeefb" stroke="#d21ed2" stroke-width="1.6"/>
<rect x="881.5" y="1818.5" width="66" height="41.5" rx="0" fill="none" stroke="#d21ed2" stroke-width="1.8"/>
<polygon points="882,1832.5 928.5,1832.5 928.5,1850 882,1850" fill="#f8e8f8" stroke="#d21ed2" stroke-width="1.6"/>
<polyline points="891,1832.5 891,1850" fill="none" stroke="#d21ed2" stroke-width="1.5"/>
<polyline points="920,1832.5 920,1850" fill="none" stroke="#d21ed2" stroke-width="1.5"/>
<polyline points="910.5,1818.5 910.5,1860" fill="none" stroke="#d21ed2" stroke-width="1.5"/>
<polyline points="875,1841 952,1841" fill="none" stroke="#d23c3c" stroke-width="1.3"/>
<polygon points="1067.2,2061.4 1055.8,2072.8 1039.8,2072.8 1028.4,2061.4 1028.4,2045.4 1039.8,2034 1055.8,2034 1067.2,2045.4" fill="none" stroke="#d21ed2" stroke-width="1.8"/>
<circle cx="1047.8" cy="2053.4" r="14" fill="none" stroke="#d21ed2" stroke-width="1.5"/>
<polyline points="1026,2053.4 1070,2053.4" fill="none" stroke="#d21ed2" stroke-width="1.5"/>
<polyline points="1047.8,2030 1047.8,2076" fill="none" stroke="#d21ed2" stroke-width="1.5"/>
<line x1="416" y1="2013" x2="1310" y2="2013" stroke="#d23c3c" stroke-width="1.4" stroke-dasharray="60,8,10,8"/>
<line x1="609.7" y1="1703" x2="609.7" y2="2262" stroke="#d23c3c" stroke-width="1.4" stroke-dasharray="90,8,12,8"/>
<polyline points="462.8,1898.7 503.5,1898.7" fill="none" stroke="#d23c3c" stroke-width="1.4"/>
<polyline points="464.7,2128.3 503.5,2128.3" fill="none" stroke="#d23c3c" stroke-width="1.4"/>
<polyline points="546,2224.7 546,2261.7" fill="none" stroke="#d23c3c" stroke-width="1.4"/>
<polyline points="700,2225 700,2262" fill="none" stroke="#d23c3c" stroke-width="1.4"/>
<polyline points="267,1633.6 297.7,1633.6 473.9,1956.4" fill="none" stroke="#111" stroke-width="1.5"/>
<circle cx="473.9" cy="1956.4" r="4.6" fill="#000"/>
<path d="M4,6 L9,0.5 L9,31" transform="translate(275,1598)" fill="none" stroke="#151515" stroke-width="2.4" stroke-linecap="round" stroke-linejoin="round"/>
<polyline points="361,1633.6 391.6,1633.6 570,2022" fill="none" stroke="#111" stroke-width="1.5"/>
<circle cx="570" cy="2022" r="4.6" fill="#000"/>
<path d="M1.5,7 C1.5,3 4.5,0.5 8,0.5 C11.5,0.5 14.5,3 14.5,7.5 C14.5,12 11,16 1,31 L15,31" transform="translate(370,1598)" fill="none" stroke="#151515" stroke-width="2.4" stroke-linecap="round" stroke-linejoin="round"/>
<polyline points="454.7,1633.6 487,1633.6 551.5,1951.8" fill="none" stroke="#111" stroke-width="1.5"/>
<circle cx="551.5" cy="1951.8" r="4.6" fill="#000"/>
<path d="M1.5,5 C2.5,2 5,0.5 8,0.5 C11.5,0.5 14,3 14,7.5 C14,11.5 11.5,14.5 7,14.5 C11.5,14.5 14.5,17.5 14.5,22.5 C14.5,27.5 11.5,31 8,31 C4.5,31 2,29 1,25.5" transform="translate(463.4,1598)" fill="none" stroke="#151515" stroke-width="2.4" stroke-linecap="round" stroke-linejoin="round"/>
<polyline points="550,1633.6 582,1633.6 603.2,1888.4" fill="none" stroke="#111" stroke-width="1.5"/>
<circle cx="603.2" cy="1888.4" r="4.6" fill="#000"/>
<path d="M11.5,31 L11.5,0.5 L0.8,21.5 L15.5,21.5" transform="translate(558,1598)" fill="none" stroke="#151515" stroke-width="2.4" stroke-linecap="round" stroke-linejoin="round"/>
<polyline points="644,1633.6 676,1633.6 714,1985.3" fill="none" stroke="#111" stroke-width="1.5"/>
<circle cx="714" cy="1985.3" r="4.6" fill="#000"/>
<path d="M14,0.5 L3,0.5 L2,13.5 C3.5,12 5.5,11.2 8,11.2 C12,11.2 14.5,14.5 14.5,20.5 C14.5,27 11.5,31 7.5,31 C4.5,31 2,29 1,25.5" transform="translate(653,1598)" fill="none" stroke="#151515" stroke-width="2.4" stroke-linecap="round" stroke-linejoin="round"/>
<polyline points="833.7,1633.6 864.4,1633.6 712,1862.4" fill="none" stroke="#111" stroke-width="1.5"/>
<circle cx="712" cy="1862.4" r="4.6" fill="#000"/>
<path d="M13.5,4 C12.5,1.5 10.5,0.5 8,0.5 C3.5,0.5 1.2,5.5 1.2,15.5 C1.2,26.5 3.8,31 8,31 C12,31 14.8,27.5 14.8,21.5 C14.8,15.5 12,12.5 8,12.5 C4.5,12.5 2,15 1.3,18.5" transform="translate(841,1598)" fill="none" stroke="#151515" stroke-width="2.4" stroke-linecap="round" stroke-linejoin="round"/>
<polyline points="927,1633.6 958.6,1633.6 788.7,1953" fill="none" stroke="#111" stroke-width="1.5"/>
<circle cx="788.7" cy="1953" r="4.6" fill="#000"/>
<path d="M0.8,0.5 L15,0.5 L5.5,31" transform="translate(936,1598)" fill="none" stroke="#151515" stroke-width="2.4" stroke-linecap="round" stroke-linejoin="round"/>
<polyline points="1020.6,1633.6 1051,1633.6 813.7,1976" fill="none" stroke="#111" stroke-width="1.5"/>
<circle cx="813.7" cy="1976" r="4.6" fill="#000"/>
<path d="M8,14.5 C4,14.5 1.8,11.8 1.8,7.5 C1.8,3.2 4.5,0.5 8,0.5 C11.5,0.5 14.2,3.2 14.2,7.5 C14.2,11.8 12,14.5 8,14.5 C3.5,14.5 0.8,17.5 0.8,22.5 C0.8,27.5 4,31 8,31 C12,31 15.2,27.5 15.2,22.5 C15.2,17.5 12.5,14.5 8,14.5 Z" transform="translate(1028,1598)" fill="none" stroke="#151515" stroke-width="2.4" stroke-linecap="round" stroke-linejoin="round"/>
<polyline points="1117,1633.6 1148,1633.6 1048.4,2001" fill="none" stroke="#111" stroke-width="1.5"/>
<circle cx="1048.4" cy="2001" r="4.6" fill="#000"/>
<path d="M2.5,27.5 C3.5,30 5.5,31 8,31 C12.5,31 14.8,26 14.8,16 C14.8,5 12.2,0.5 8,0.5 C4,0.5 1.2,3.5 1.2,9.5 C1.2,15.5 4,18.5 8,18.5 C11.5,18.5 14,16 14.7,12.5" transform="translate(1122,1598)" fill="none" stroke="#151515" stroke-width="2.4" stroke-linecap="round" stroke-linejoin="round"/>
<polyline points="1211,1633.6 1242,1633.6 1107.5,1920.4" fill="none" stroke="#111" stroke-width="1.5"/>
<circle cx="1107.5" cy="1920.4" r="4.6" fill="#000"/>
<path d="M4,6 L9,0.5 L9,31" transform="translate(1205.5,1598)" fill="none" stroke="#151515" stroke-width="2.4" stroke-linecap="round" stroke-linejoin="round"/>
<path d="M8,0.5 C3,0.5 0.8,7 0.8,15.75 C0.8,24.5 3,31 8,31 C13,31 15.2,24.5 15.2,15.75 C15.2,7 13,0.5 8,0.5 Z" transform="translate(1227,1598)" fill="none" stroke="#151515" stroke-width="2.4" stroke-linecap="round" stroke-linejoin="round"/>
</svg>
</body></html>
